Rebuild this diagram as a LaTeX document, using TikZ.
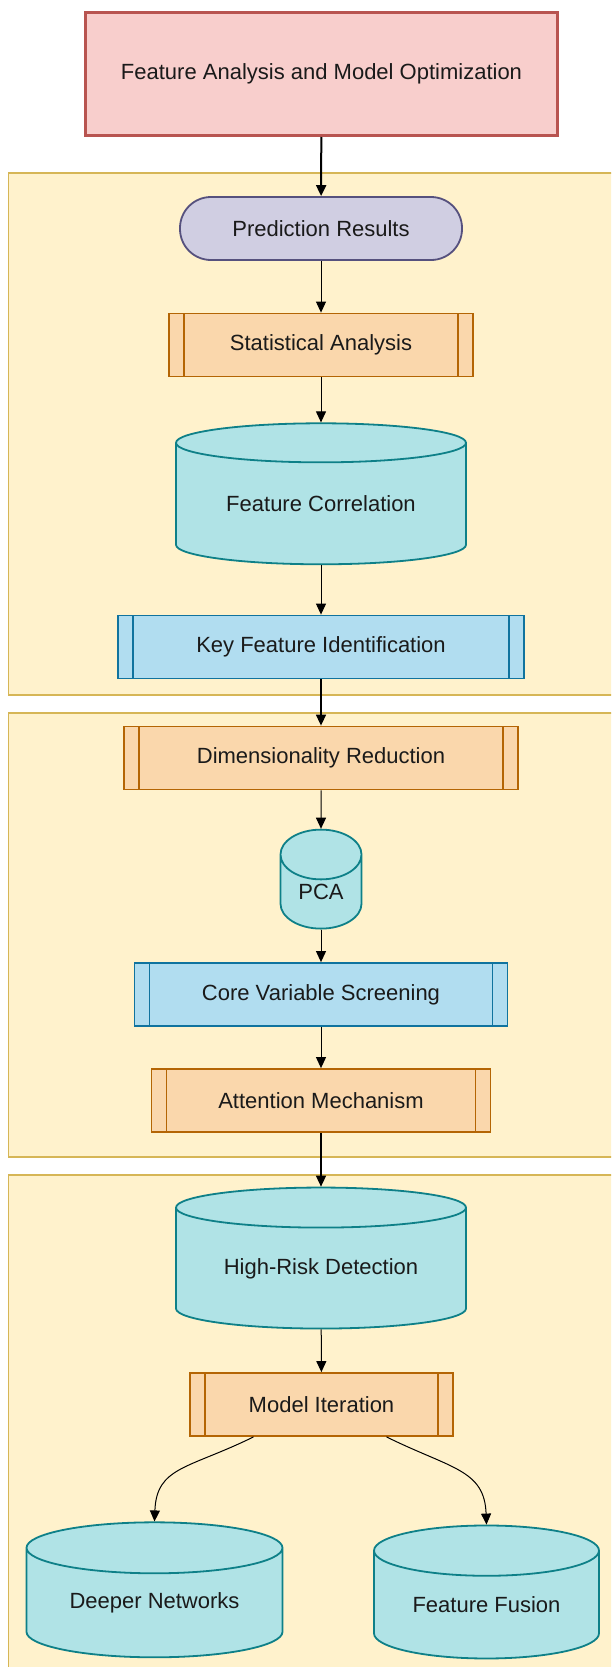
\documentclass[tikz,border=0pt]{standalone}
\usepackage{fontspec}
\setmainfont{Liberation Sans}
\usepackage{tikz}
\usetikzlibrary{arrows.meta,shapes.geometric,calc}
\definecolor{panel-fill}{HTML}{FFF2CC}
\definecolor{panel-line}{HTML}{D6B656}
\definecolor{head-fill}{HTML}{F8CECC}
\definecolor{head-line}{HTML}{B85450}
\definecolor{term-fill}{HTML}{D0CEE2}
\definecolor{term-line}{HTML}{56517E}
\definecolor{orange-fill}{HTML}{FAD7AC}
\definecolor{orange-line}{HTML}{B46504}
\definecolor{blue-fill}{HTML}{B1DDF0}
\definecolor{blue-line}{HTML}{10739E}
\definecolor{store-fill}{HTML}{B0E3E6}
\definecolor{store-line}{HTML}{0E8088}
\definecolor{label-text}{HTML}{1A1A1A}
\tikzstyle{panel}=[fill=panel-fill, draw=panel-line, line width=1.2pt]
\tikzstyle{headbox}=[draw=head-line, fill=head-fill, line width=3pt, minimum width=472pt, minimum height=123pt]
\tikzstyle{terminal}=[draw=term-line, fill=term-fill, line width=1.8pt, rounded corners=31pt, minimum width=282pt, minimum height=63pt]
\tikzstyle{store}=[cylinder, shape border rotate=90, draw=store-line, fill=store-fill, line width=1.8pt]
\tikzstyle{flow}=[-{Triangle[length=11pt,width=10pt]}, line width=1pt]
\tikzset{process/.style={draw=#1-line, fill=#1-fill, line width=1.8pt, minimum height=63pt,
    path picture={
      \draw[#1-line, line width=1.8pt] ([xshift=15pt]path picture bounding box.north west) -- ([xshift=15pt]path picture bounding box.south west)
        ([xshift=-15pt]path picture bounding box.north east) -- ([xshift=-15pt]path picture bounding box.south east);
    }}}

\begin{document}
\begin{tikzpicture}[x=1pt, y=-1pt, every node/.style={inner sep=0pt, text=label-text, font=\fontsize{22}{26}\selectfont}]
	\useasboundingbox (0,0) rectangle (611,1667);
	\clip (0,0) rectangle (611,1667);
	% background groups
	\draw[panel] (8.6,173) rectangle (625,695);
	\draw[panel] (8.6,713) rectangle (625,1157);
	\draw[panel] (8.6,1175) rectangle (625,1700);
	% nodes
	\node[headbox] (head) at (321.5,74) {Feature Analysis and Model Optimization};
	\node[terminal] (pred) at (321,228.5) {Prediction Results};
	\node[process=orange, minimum width=304pt] (stats) at (321,345) {Statistical Analysis};
	\node[store, minimum width=290pt, minimum height=141pt, aspect=0.206] (corr) at (321,504) {Feature Correlation};
	\node[process=blue, minimum width=406pt] (keyfeat) at (321,647) {Key Feature Identification};
	\node[process=orange, minimum width=394pt] (dimred) at (321,758) {Dimensionality Reduction};
	\node[store, minimum width=81pt, minimum height=99pt, aspect=1.1] (pca) at (321,892) {PCA};
	\node[process=blue, minimum width=373pt] (corevar) at (321,994.5) {Core Variable Screening};
	\node[process=orange, minimum width=339pt] (attn) at (321,1100.5) {Attention Mechanism};
	\node[store, minimum width=290pt, minimum height=141pt, aspect=0.206] (risk) at (321,1268.5) {High-Risk Detection};
	\node[process=orange, minimum width=263pt] (iter) at (321.5,1404.5) {Model Iteration};
	\node[store, minimum width=256pt, minimum height=135pt, aspect=0.3] (deeper) at (154.5,1603) {Deeper Networks};
	\node[store, minimum width=225pt, minimum height=133pt, aspect=0.34] (fusion) at (486.5,1605) {Feature Fusion};
	% connectors
	\draw[flow, line width=2pt] (head) -- (pred);
	\draw[flow] (pred) -- (stats);
	\draw[flow] (stats) -- (corr);
	\draw[flow] (corr) -- (keyfeat);
	\draw[flow, line width=1.5pt] (keyfeat) -- (dimred);
	\draw[flow] (dimred) -- (pca);
	\draw[flow] (pca) -- (corevar);
	\draw[flow] (corevar) -- (attn);
	\draw[flow, line width=1.5pt] (attn) -- (risk);
	\draw[flow] (risk) -- (iter);
	\draw[flow] ([xshift=-68pt]iter.south) .. controls +(-65,32) and +(2,-55) .. (deeper.north);
	\draw[flow] ([xshift=65pt]iter.south) .. controls +(65,32) and +(-2,-55) .. (fusion.north);
\end{tikzpicture}
\end{document}
